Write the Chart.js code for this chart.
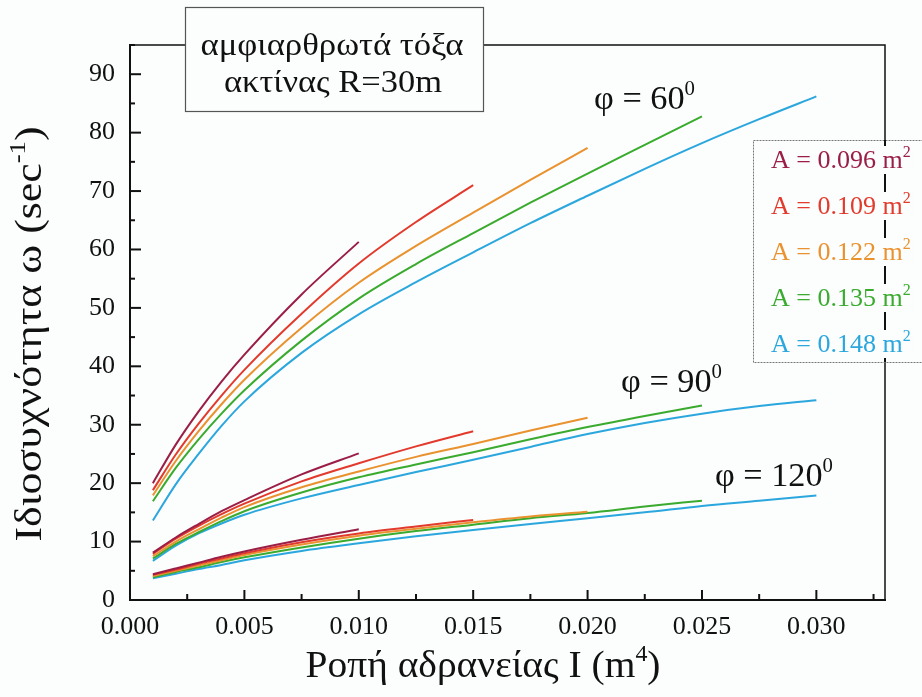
<!DOCTYPE html>
<html>
<head>
<meta charset="utf-8">
<script src="https://cdn.jsdelivr.net/npm/chart.js@4.4.1/dist/chart.umd.min.js"></script>
<style>
body { margin: 0; background: #fcfdfd; }
#container { width: 922px; height: 697px; }
</style>
</head>
<body>
<div id="container"><canvas id="chartcanvas" width="922" height="697"></canvas></div>
<script>
// moment of inertia I (m^4)
var inertia = [0.001, 0.002, 0.003, 0.004, 0.005, 0.0075, 0.010, 0.0125, 0.015, 0.0175, 0.020, 0.0225, 0.025, 0.0275, 0.030];

var areaLabels = ['A = 0.096 m', 'A = 0.109 m', 'A = 0.122 m', 'A = 0.135 m', 'A = 0.148 m'];
var areaColors = ['#9a1e45', '#e23a2c', '#e9922f', '#3aab2e', '#2ba7de'];
var xTicks = { min: 0, max: 0.033, step: 0.0025 };
var yTicks = { min: 0, max: 95, step: 5 };

// φ = 60
var phi60_a096 = [20.0, 26.6, 32.3, 37.4, 42.0, 52.3, 61.3];
var phi60_a109 = [18.8, 24.9, 30.2, 35.0, 39.4, 49.0, 57.6, 64.7, 71.0];
var phi60_a122 = [17.9, 23.8, 28.9, 33.5, 37.7, 46.6, 54.3, 60.6, 66.3, 71.9, 77.4];
var phi60_a135 = [16.9, 22.6, 27.5, 31.9, 35.9, 44.4, 51.6, 57.5, 62.8, 68.0, 73.0, 77.9, 82.8];
var phi60_a148 = [13.6, 19.8, 25.0, 29.8, 34.0, 42.3, 48.9, 54.4, 59.5, 64.5, 69.2, 73.8, 78.2, 82.3, 86.2];

// φ = 90
var phi90_a096 = [8.1, 10.7, 13.0, 15.2, 17.1, 21.5, 25.1];
var phi90_a109 = [7.9, 10.5, 12.7, 14.7, 16.5, 20.3, 23.4, 26.3, 28.9];
var phi90_a122 = [7.5, 10.0, 12.1, 14.1, 15.9, 19.3, 22.0, 24.5, 26.7, 29.0, 31.2];
var phi90_a135 = [7.1, 9.6, 11.6, 13.5, 15.2, 18.4, 21.0, 23.2, 25.3, 27.5, 29.6, 31.5, 33.3];
var phi90_a148 = [6.7, 9.3, 11.4, 13.1, 14.6, 17.4, 19.7, 21.9, 24.0, 26.2, 28.4, 30.3, 31.9, 33.2, 34.2];

// φ = 120
var phi120_a096 = [4.4, 5.4, 6.4, 7.4, 8.3, 10.3, 12.1];
var phi120_a109 = [4.3, 5.2, 6.2, 7.1, 8.0, 9.9, 11.4, 12.6, 13.7];
var phi120_a122 = [4.1, 5.0, 5.9, 6.8, 7.7, 9.5, 11.0, 12.2, 13.3, 14.3, 15.1];
var phi120_a135 = [3.9, 4.8, 5.6, 6.5, 7.3, 9.0, 10.5, 11.8, 12.9, 14.0, 14.9, 16.0, 17.0];
var phi120_a148 = [3.7, 4.5, 5.3, 6.0, 6.8, 8.4, 9.7, 10.9, 12.0, 13.0, 14.0, 15.0, 16.1, 17.0, 17.9];

var groups = [
    [phi60_a096, phi60_a109, phi60_a122, phi60_a135, phi60_a148],
    [phi90_a096, phi90_a109, phi90_a122, phi90_a135, phi90_a148],
    [phi120_a096, phi120_a109, phi120_a122, phi120_a135, phi120_a148]
];

var serif = '"Liberation Serif", "Times New Roman", serif';

var datasets = [];
groups.forEach(function (group) {
    group.forEach(function (series, i) {
        datasets.push({
            data: series.map(function (v, k) { return { x: inertia[k], y: v }; }),
            borderColor: areaColors[i],
            borderWidth: 2,
            pointRadius: 0,
            fill: false,
            cubicInterpolationMode: 'monotone'
        });
    });
});

// text with superscripts: parts = [[text, isSup], ...]
function partsWidth(c, parts, size) {
    var w = 0;
    parts.forEach(function (p) {
        c.font = (p[1] ? Math.round(size * 0.6) : size) + 'px ' + serif;
        w += c.measureText(p[0]).width;
    });
    return w;
}
// draws the parts; if fitWidth is given the run is squeezed/stretched to that width
function drawParts(c, parts, x, y, size, align, fitWidth) {
    var w = partsWidth(c, parts, size);
    var sx = fitWidth ? fitWidth / w : 1;
    if (align === 'center') x -= w * sx / 2;
    c.save();
    c.translate(x, y);
    c.scale(sx, 1);
    c.textAlign = 'left';
    c.textBaseline = 'alphabetic';
    var px = 0;
    parts.forEach(function (p) {
        c.font = (p[1] ? Math.round(size * 0.6) : size) + 'px ' + serif;
        c.fillText(p[0], px, p[1] ? -size * 0.42 : 0);
        px += c.measureText(p[0]).width;
    });
    c.restore();
}

var extras = {
    id: 'extras',
    afterDraw: function (chart) {
        var c = chart.ctx, a = chart.chartArea, xs = chart.scales.x, ys = chart.scales.y;
        c.save();
        c.strokeStyle = '#111';
        c.fillStyle = '#111';

        // frame top and right
        c.lineWidth = 1.5;
        c.beginPath();
        c.moveTo(a.left, a.top);
        c.lineTo(a.right, a.top);
        c.lineTo(a.right, a.bottom);
        c.stroke();

        // inward ticks
        c.lineWidth = 2;
        xs.ticks.forEach(function (t) {
            var px = xs.getPixelForValue(t.value);
            var major = Math.round(t.value * 2000) % 10 === 0;
            c.beginPath();
            c.moveTo(px, a.bottom);
            c.lineTo(px, a.bottom - (major ? 10 : 6));
            c.stroke();
        });
        ys.ticks.forEach(function (t) {
            var py = ys.getPixelForValue(t.value);
            var major = Math.round(t.value) % 10 === 0;
            c.beginPath();
            c.moveTo(a.left, py);
            c.lineTo(a.left + (major ? 11 : 5), py);
            c.stroke();
        });

        // axis titles
        drawParts(c, [['Ροπή αδρανείας I (m', false], ['4', true], [')', false]], 483, 677, 38, 'center', 355);
        c.save();
        c.translate(41, 334);
        c.rotate(-Math.PI / 2);
        drawParts(c, [['Ιδιοσυχνότητα ω (sec', false], ['-1', true], [')', false]], 0, 0, 38, 'center', 415);
        c.restore();

        // group labels
        drawParts(c, [['φ = 60', false], ['0', true]], 594, 109, 33, 'left', 101);
        drawParts(c, [['φ = 90', false], ['0', true]], 621, 392, 33, 'left', 101);
        drawParts(c, [['φ = 120', false], ['0', true]], 715, 486, 33, 'left', 118);

        // title box
        c.fillStyle = '#fcfdfd';
        c.fillRect(185, 7, 298, 104);
        c.strokeStyle = '#555';
        c.lineWidth = 1.2;
        c.strokeRect(185.5, 7.5, 298, 104);
        c.fillStyle = '#111';
        drawParts(c, [['αμφιαρθρωτά τόξα', false]], 332, 55, 31, 'center', 263);
        drawParts(c, [['ακτίνας R=30m', false]], 333, 92, 31, 'center', 218);

        // legend box
        c.fillStyle = '#fcfdfd';
        c.fillRect(753, 140, 180, 222);
        c.strokeStyle = '#777';
        c.lineWidth = 1;
        c.setLineDash([2, 1]);
        c.strokeRect(753.5, 140.5, 180, 222);
        c.setLineDash([]);
        c.strokeStyle = '#111';
        c.lineWidth = 2;
        c.beginPath();
        c.moveTo(a.right, 140);
        c.lineTo(a.right, 362);
        c.stroke();
        areaLabels.forEach(function (lab, i) {
            var base = 168 + i * 46;
            var parts = [[lab, false], ['2', true]];
            var w = partsWidth(c, parts, 26);
            c.fillStyle = '#fcfdfd';
            c.fillRect(771, base - 22, w + 2, 28);
            c.fillStyle = areaColors[i];
            drawParts(c, parts, 771, base, 26, 'left');
        });
        c.restore();
    }
};

var ctx = document.getElementById('chartcanvas');
var myChart = new Chart(ctx, {
    type: 'line',
    data: { datasets: datasets },
    options: {
        responsive: false,
        animation: false,
        devicePixelRatio: 1,
        layout: { padding: { left: 0, top: 45, right: 37, bottom: 0 } },
        plugins: {
            legend: { display: false },
            tooltip: { enabled: false }
        },
        scales: {
            x: {
                type: 'linear',
                min: xTicks.min,
                max: xTicks.max,
                afterFit: function (scale) { scale.height = 97; },
                grid: { drawOnChartArea: false, drawTicks: false },
                border: { color: '#111', width: 2 },
                ticks: {
                    stepSize: xTicks.step,
                    includeBounds: false,
                    autoSkip: false,
                    maxRotation: 0,
                    minRotation: 0,
                    padding: 12,
                    color: '#111',
                    font: { family: serif, size: 26 },
                    callback: function (value) {
                        return Math.round(value * 2000) % 10 === 0 ? value.toFixed(3) : '';
                    }
                }
            },
            y: {
                min: yTicks.min,
                max: yTicks.max,
                afterFit: function (scale) { scale.width = 130; },
                grid: { drawOnChartArea: false, drawTicks: false },
                border: { color: '#111', width: 2 },
                ticks: {
                    stepSize: yTicks.step,
                    includeBounds: false,
                    autoSkip: false,
                    padding: 15,
                    color: '#111',
                    font: { family: serif, size: 26 },
                    callback: function (value) {
                        return Math.round(value) % 10 === 0 ? value : '';
                    }
                }
            }
        }
    },
    plugins: [extras]
});
</script>
</body>
</html>
